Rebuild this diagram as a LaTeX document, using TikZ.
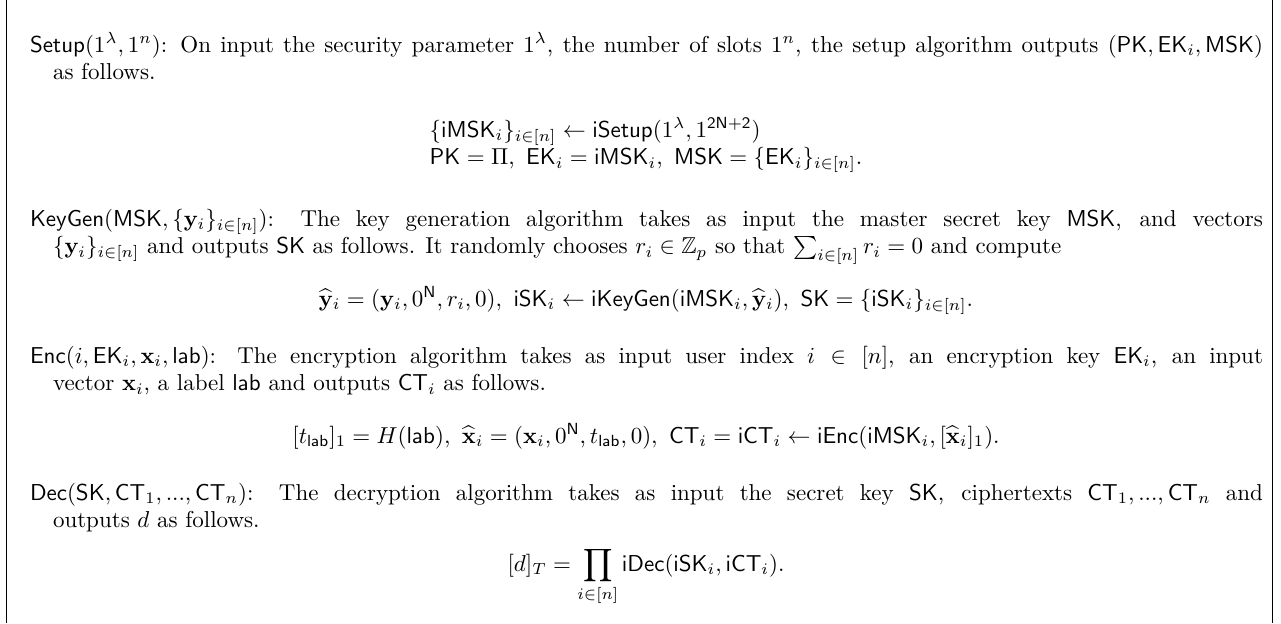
\documentclass[tikz,border=0pt]{standalone}
\usepackage{amsmath,amssymb}
% one drawing unit
\newlength\U \setlength\U{0.43478pt}
\tikzset{
  para/.style={anchor=base west, inner sep=0pt, outer sep=0pt},
  disp/.style={anchor=base, inner sep=0pt, outer sep=0pt},
  rulebar/.style={line width=0.55pt}
}
\newcommand{\algpar}[1]{\parbox[t]{1233\U}{\hangindent=23\U\hangafter=1 #1}}
\begin{document}
\begin{tikzpicture}[x=1\U,y=-1\U]
  \useasboundingbox (0,0) rectangle (1281,623);
  % side rules of the frame
  \coordinate (lt) at (6.7,0);    \coordinate (lb) at (6.7,623);
  \coordinate (rt) at (1272.7,0); \coordinate (rb) at (1272.7,623);
  \draw[rulebar] (lt) -- (lb);
  \draw[rulebar] (rt) -- (rb);

  % Setup
  \node[para] (setup) at (30,52) {\algpar{$\mathsf{Setup}(1^\lambda, 1^n)$: On input the security parameter $1^\lambda$, the number of slots $1^n$, the setup algorithm outputs $(\mathsf{PK}, \mathsf{EK}_i, \mathsf{MSK})$\linebreak as follows.}};
  \node[disp] (setupeq) at (646,137) {$\begin{array}[t]{@{}l@{}}
      \{\mathsf{iMSK}_i\}_{i\in[n]} \leftarrow \mathsf{iSetup}(1^\lambda, 1^{\mathsf{2N+2}})\\
      \mathsf{PK} = \Pi,\ \mathsf{EK}_i = \mathsf{iMSK}_i,\ \mathsf{MSK} = \{\mathsf{EK}_i\}_{i\in[n]}.
    \end{array}$};

  % KeyGen
  \node[para] (keygen) at (30,226) {\algpar{$\mathsf{KeyGen}(\mathsf{MSK}, \{\mathbf{y}_i\}_{i\in[n]})$: The key generation algorithm takes as input the master secret key $\mathsf{MSK}$, and vectors\linebreak $\{\mathbf{y}_i\}_{i\in[n]}$ and outputs $\mathsf{SK}$ as follows. It randomly chooses $r_i \in \mathbb{Z}_p$ so that $\sum_{i\in[n]} r_i = 0$ and compute}};
  \node[disp] (keygeneq) at (646,306) {$\widehat{\mathbf{y}}_i = (\mathbf{y}_i, 0^{\mathsf{N}}, r_i, 0),\ \mathsf{iSK}_i \leftarrow \mathsf{iKeyGen}(\mathsf{iMSK}_i, \widehat{\mathbf{y}}_i),\ \mathsf{SK} = \{\mathsf{iSK}_i\}_{i\in[n]}.$};

  % Enc
  \node[para] (enc) at (30,363) {\algpar{$\mathsf{Enc}(i, \mathsf{EK}_i, \mathbf{x}_i, \mathsf{lab})$: The encryption algorithm takes as input user index $i \in [n]$, an encryption key $\mathsf{EK}_i$, an input\linebreak vector $\mathbf{x}_i$, a label $\mathsf{lab}$ and outputs $\mathsf{CT}_i$ as follows.}};
  \node[disp] (enceq) at (646,443) {$[t_{\mathsf{lab}}]_1 = H(\mathsf{lab}),\ \widehat{\mathbf{x}}_i = (\mathbf{x}_i, 0^{\mathsf{N}}, t_{\mathsf{lab}}, 0),\ \mathsf{CT}_i = \mathsf{iCT}_i \leftarrow \mathsf{iEnc}(\mathsf{iMSK}_i, [\widehat{\mathbf{x}}_i]_1).$};

  % Dec
  \node[para] (dec) at (30,500) {\algpar{$\mathsf{Dec}(\mathsf{SK}, \mathsf{CT}_1, ..., \mathsf{CT}_n)$: The decryption algorithm takes as input the secret key $\mathsf{SK}$, ciphertexts $\mathsf{CT}_1, ..., \mathsf{CT}_n$ and\linebreak outputs $d$ as follows.}};
  \node[disp] (deceq) at (646,571) {$\displaystyle [d]_T = \prod_{i\in[n]} \mathsf{iDec}(\mathsf{iSK}_i, \mathsf{iCT}_i).$};
\end{tikzpicture}
\end{document}
